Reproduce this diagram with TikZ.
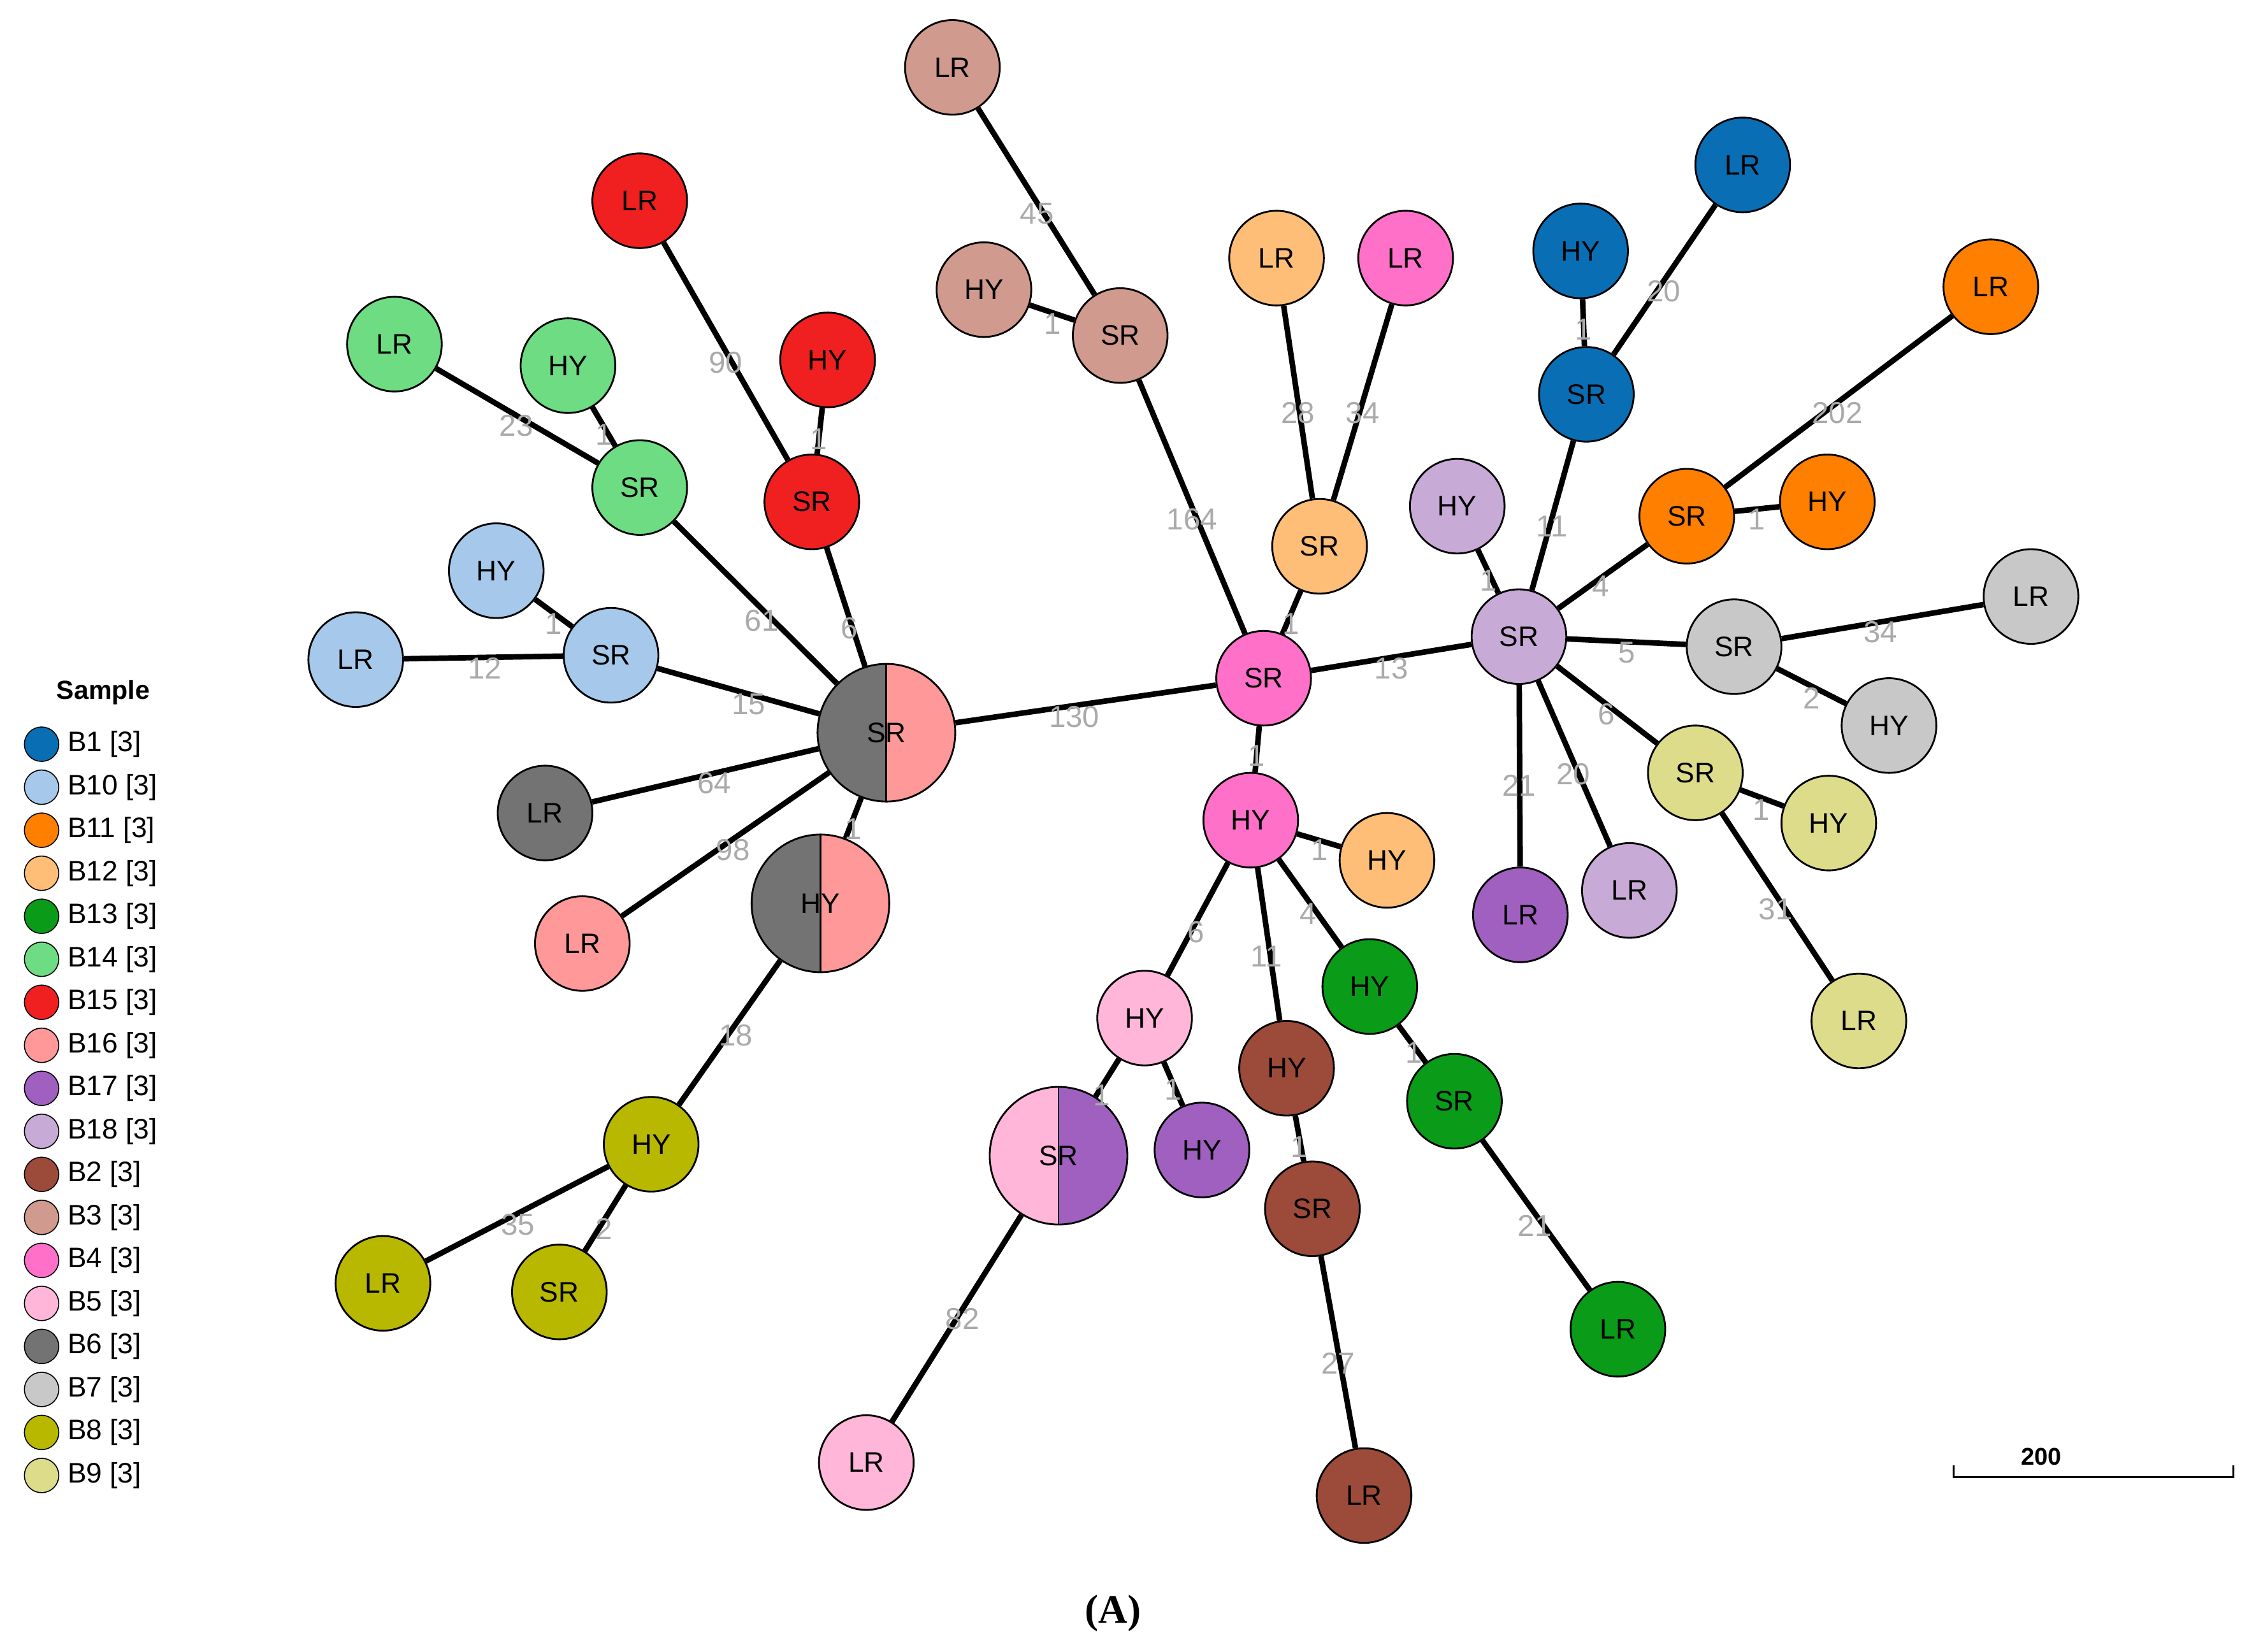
\documentclass[tikz,border=0pt]{standalone}
\usepackage{fontspec}
\setmainfont{Liberation Sans}
\newfontfamily\serifA{Liberation Serif}
\definecolor{cB1}{RGB}{10,110,180}
\definecolor{cB10}{RGB}{166,200,234}
\definecolor{cB11}{RGB}{255,127,0}
\definecolor{cB12}{RGB}{255,190,120}
\definecolor{cB13}{RGB}{10,155,25}
\definecolor{cB14}{RGB}{110,220,130}
\definecolor{cB15}{RGB}{240,32,32}
\definecolor{cB16}{RGB}{255,153,153}
\definecolor{cB17}{RGB}{160,96,192}
\definecolor{cB18}{RGB}{200,170,214}
\definecolor{cB2}{RGB}{156,74,58}
\definecolor{cB3}{RGB}{208,154,142}
\definecolor{cB4}{RGB}{255,112,200}
\definecolor{cB5}{RGB}{255,182,216}
\definecolor{cB6}{RGB}{115,115,115}
\definecolor{cB7}{RGB}{200,200,200}
\definecolor{cB8}{RGB}{184,184,0}
\definecolor{cB9}{RGB}{220,220,138}
\definecolor{labg}{RGB}{170,170,170}
\tikzset{
 nd/.style={circle,draw=black,line width=1.8pt,minimum size=33mm,inner sep=0pt,font=\fontsize{28}{32}\selectfont},
 bignd/.style={nd,minimum size=48mm},
 lk/.style={line width=5.5pt},
 lab/.style={text=labg,font=\fontsize{30}{34}\selectfont,inner sep=0pt},
 leg/.style={circle,draw=black,line width=1pt,minimum size=12mm,inner sep=0pt},
 legt/.style={anchor=west,font=\fontsize{28}{32}\selectfont,inner sep=0pt}
}
\begin{document}
\begin{tikzpicture}[x=0.5mm,y=-0.5mm]
\useasboundingbox (0,0) rectangle (1568,1152);
% half circles
\begin{scope}\clip (618,511) circle (48);
\fill[cB6] (560,450) rectangle (618,570); \fill[cB16] (618,450) rectangle (680,570);\end{scope}
\begin{scope}\clip (572,630) circle (48);
\fill[cB6] (510,570) rectangle (572,690); \fill[cB16] (572,570) rectangle (630,690);\end{scope}
\begin{scope}\clip (738,806) circle (48);
\fill[cB5] (680,750) rectangle (738,860); \fill[cB17] (738,750) rectangle (800,860);\end{scope}
\node[bignd] (C) at (618,511) {SR};
\node[bignd] (H) at (572,630) {HY};
\node[bignd] (Q) at (738,806) {SR};
\draw[line width=1.8pt] (618,463)--(618,559) (572,582)--(572,678) (738,758)--(738,854);
% nodes
\node[nd,fill=cB3] (b3l) at (664,47) {LR};
\node[nd,fill=cB3] (b3h) at (686,202) {HY};
\node[nd,fill=cB3] (b3s) at (781,234) {SR};
\node[nd,fill=cB15] (b15l) at (446,140) {LR};
\node[nd,fill=cB15] (b15h) at (577,251) {HY};
\node[nd,fill=cB15] (b15s) at (566,350) {SR};
\node[nd,fill=cB14] (b14l) at (275,240) {LR};
\node[nd,fill=cB14] (b14h) at (396,255) {HY};
\node[nd,fill=cB14] (b14s) at (446,340) {SR};
\node[nd,fill=cB10] (b10h) at (346,398) {HY};
\node[nd,fill=cB10] (b10l) at (248,460) {LR};
\node[nd,fill=cB10] (b10s) at (426,457) {SR};
\node[nd,fill=cB6] (b6l) at (380,567) {LR};
\node[nd,fill=cB16] (b16l) at (406,658) {LR};
\node[nd,fill=cB8] (b8h) at (454,798) {HY};
\node[nd,fill=cB8] (b8l) at (267,895) {LR};
\node[nd,fill=cB8] (b8s) at (390,901) {SR};
\node[nd,fill=cB12] (b12l) at (890,180) {LR};
\node[nd,fill=cB4] (b4l) at (980,180) {LR};
\node[nd,fill=cB12] (b12s) at (920,381) {SR};
\node[nd,fill=cB4] (b4s) at (881,473) {SR};
\node[nd,fill=cB4] (b4h) at (872,572) {HY};
\node[nd,fill=cB12] (b12h) at (967,600) {HY};
\node[nd,fill=cB5] (b5h) at (798,710) {HY};
\node[nd,fill=cB17] (b17h) at (838,802) {HY};
\node[nd,fill=cB5] (b5l) at (604,1020) {LR};
\node[nd,fill=cB2] (b2h) at (897,745) {HY};
\node[nd,fill=cB2] (b2s) at (915,843) {SR};
\node[nd,fill=cB2] (b2l) at (951,1043) {LR};
\node[nd,fill=cB13] (b13h) at (955,688) {HY};
\node[nd,fill=cB13] (b13s) at (1014,768) {SR};
\node[nd,fill=cB13] (b13l) at (1128,927) {LR};
\node[nd,fill=cB18] (b18h) at (1016,353) {HY};
\node[nd,fill=cB18] (b18s) at (1059,444) {SR};
\node[nd,fill=cB17] (b17l) at (1060,638) {LR};
\node[nd,fill=cB18] (b18l) at (1136,621) {LR};
\node[nd,fill=cB1] (b1h) at (1102,175) {HY};
\node[nd,fill=cB1] (b1l) at (1215,115) {LR};
\node[nd,fill=cB1] (b1s) at (1106,275) {SR};
\node[nd,fill=cB11] (b11l) at (1388,200) {LR};
\node[nd,fill=cB11] (b11s) at (1176,360) {SR};
\node[nd,fill=cB11] (b11h) at (1274,350) {HY};
\node[nd,fill=cB7] (b7s) at (1209,451) {SR};
\node[nd,fill=cB7] (b7l) at (1416,416) {LR};
\node[nd,fill=cB7] (b7h) at (1317,506) {HY};
\node[nd,fill=cB9] (b9s) at (1182,539) {SR};
\node[nd,fill=cB9] (b9h) at (1275,574) {HY};
\node[nd,fill=cB9] (b9l) at (1296,712) {LR};
% edges
\foreach \a/\b in {b3l/b3s,b3h/b3s,b3s/b4s,b15l/b15s,b15h/b15s,b15s/C,b14l/b14s,b14h/b14s,b14s/C,
 b10h/b10s,b10l/b10s,b10s/C,b6l/C,b16l/C,C/H,C/b4s,H/b8h,b8h/b8l,b8h/b8s,b12l/b12s,b4l/b12s,b12s/b4s,
 b4s/b18s,b4s/b4h,b4h/b12h,b4h/b5h,b4h/b2h,b4h/b13h,b5h/Q,b5h/b17h,Q/b5l,b2h/b2s,b2s/b2l,b13h/b13s,b13s/b13l,
 b18h/b18s,b18s/b1s,b1s/b1h,b1s/b1l,b18s/b11s,b11s/b11l,b11s/b11h,b18s/b7s,b7s/b7l,b7s/b7h,b18s/b9s,b9s/b9h,b9s/b9l,
 b18s/b17l,b18s/b18l}
 \draw[lk] (\a) -- (\b);
% labels
\foreach \x/\y/\t [count=\i] in {723/149/45,734/226/1,831/362/164,506/253/90,571/306/1,592/438/6,360/297/23,421/303/1,531/433/61,
 386/435/1,338/466/12,522/491/15,498/546/64,511/593/98,595/578/1,749/500/130,513/722/18,361/854/35,421/857/2,
 905/288/28,950/288/34,900/435/1,970/466/13,876/527/1,920/593/1,834/650/6,883/667/11,912/637/4,768/764/1,818/760/1,
 671/920/82,906/800/1,933/951/27,986/734/1,1070/855/21,1038/405/1,1082/367/11,1104/230/1,1160/203/20,1116/409/4,
 1281/288/202,1225/362/1,1134/455/5,1311/441/34,1263/487/2,1120/498/6,1228/565/1,1238/634/31,1059/548/21,1097/540/20}
 \node[lab] (l\i) at (\x,\y) {\t};
% legend
\node[font=\fontsize{26}{30}\selectfont\bfseries] (lgt) at (72,483) {Sample};
\foreach \c/\t [count=\k from 0] in {cB1/B1,cB10/B10,cB11/B11,cB12/B12,cB13/B13,cB14/B14,cB15/B15,cB16/B16,cB17/B17,cB18/B18,cB2/B2,cB3/B3,cB4/B4,cB5/B5,cB6/B6,cB7/B7,cB8/B8,cB9/B9}{
 \node[leg,fill=\c] (lg\k) at (29,519+30*\k) {};
 \node[legt] (lt\k) at (47,519+30*\k) {\t\ [3]};
}
% scale bar
\draw[line width=2pt] (1362,1022) -- (1362,1030) -- (1557,1030) -- (1557,1022);
\node[font=\fontsize{24}{28}\selectfont\bfseries] (sb) at (1423,1016) {200};
\node[font=\fontsize{40}{44}\selectfont\serifA\bfseries] (A) at (776,1125) {(A)};
\end{tikzpicture}
\end{document}
